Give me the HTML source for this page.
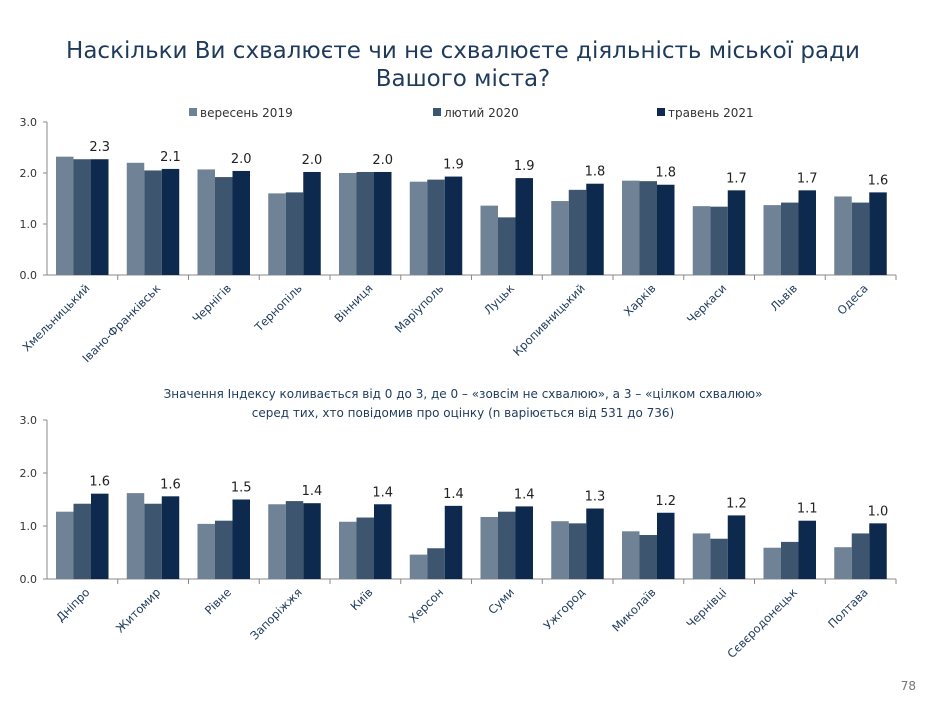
<!DOCTYPE html>
<html><head><meta charset="utf-8">
<style>
body{margin:0;background:#fff;width:926px;height:699px;overflow:hidden;font-family:"Liberation Sans","DejaVu Sans",sans-serif;}
svg text{font-family:"DejaVu Sans","Liberation Sans",sans-serif;}
</style></head><body>
<svg id="chart" width="926" height="699">
<text x="463" y="58" text-anchor="middle" font-size="23" fill="#1f3b5c">Наскільки Ви схвалюєте чи не схвалюєте діяльність міської ради</text>
<text x="463" y="86" text-anchor="middle" font-size="23" fill="#1f3b5c">Вашого міста?</text>
<g>
<rect x="189" y="108" width="8" height="8" fill="#6f8296"/>
<text x="200" y="117" font-size="12" fill="#333">вересень 2019</text>
<rect x="433" y="108" width="8" height="8" fill="#3e5570"/>
<text x="444" y="117" font-size="12" fill="#333">лютий 2020</text>
<rect x="657" y="108" width="8" height="8" fill="#0d2a4e"/>
<text x="668" y="117" font-size="12" fill="#333">травень 2021</text>
</g>
<text x="463" y="398" text-anchor="middle" font-size="12" fill="#1f3b5c">Значення Індексу коливається від 0 до 3, де 0 – «зовсім не схвалюю», а 3 – «цілком схвалюю»</text>
<text x="463" y="417" text-anchor="middle" font-size="12" fill="#1f3b5c">серед тих, хто повідомив про оцінку (n варіюється від 531 до 736)</text>
<text x="916" y="690" text-anchor="end" font-size="12" fill="#777">78</text>
</svg>
<script>
const topCats=["Хмельницький","Івано-Франківськ","Чернігів","Тернопіль","Вінниця","Маріуполь","Луцьк","Кропивницький","Харків","Черкаси","Львів","Одеса"];
const top2019=[2.32,2.2,2.07,1.6,2.0,1.83,1.36,1.45,1.85,1.35,1.37,1.54];
const top2020=[2.27,2.05,1.92,1.62,2.02,1.87,1.13,1.67,1.84,1.34,1.42,1.42];
const top2021=[2.27,2.08,2.04,2.02,2.02,1.93,1.9,1.79,1.77,1.66,1.66,1.62];
const topLabels=["2.3","2.1","2.0","2.0","2.0","1.9","1.9","1.8","1.8","1.7","1.7","1.6"];
const botCats=["Дніпро","Житомир","Рівне","Запоріжжя","Київ","Херсон","Суми","Ужгород","Миколаїв","Чернівці","Сєвєродонецьк","Полтава"];
const bot2019=[1.27,1.62,1.04,1.41,1.08,0.46,1.17,1.09,0.9,0.86,0.59,0.6];
const bot2020=[1.42,1.42,1.1,1.47,1.16,0.58,1.27,1.05,0.83,0.76,0.7,0.86];
const bot2021=[1.61,1.56,1.5,1.43,1.41,1.38,1.37,1.33,1.25,1.2,1.1,1.05];
const botLabels=["1.6","1.6","1.5","1.4","1.4","1.4","1.4","1.3","1.2","1.2","1.1","1.0"];
const yTicks=["0.0","1.0","2.0","3.0"];
const yTickVals=[0,1,2,3];
const NS="http://www.w3.org/2000/svg";
const svg=document.getElementById("chart");
const colors=["#6f8296","#3e5570","#0d2a4e"];
function mk(tag,attrs){const e=document.createElementNS(NS,tag);for(const k in attrs)e.setAttribute(k,attrs[k]);return e;}
function drawPanel(pfx,cats,series,labels,y0,y3){
  const x0=47,x1=896,gw=(x1-x0)/cats.length;
  const ys=v=>y0-(y0-y3)*v/3;
  const g=mk("g",{});
  
  
  svg.appendChild(g);
  const ax=mk("line",{x1:x0,y1:y3,x2:x0,y2:y0,stroke:"#888","stroke-width":1});
  
  
  g.appendChild(ax);
  const bx=mk("line",{x1:x0,y1:y0,x2:x1,y2:y0,stroke:"#888","stroke-width":1});
  
  
  g.appendChild(bx);
  yTickVals.forEach((v,i)=>{
    const t=mk("text",{x:x0-10,y:ys(v)+4,"text-anchor":"end","font-size":11,fill:"#333"});
    t.textContent=yTicks[i];
    
    
    g.appendChild(t);
    const tk=mk("line",{x1:x0-4,y1:ys(v),x2:x0,y2:ys(v),stroke:"#888"});
    
    
    g.appendChild(tk);
  });
  cats.forEach((c,i)=>{
    const gx=x0+i*gw;
    const tk=mk("line",{x1:gx+gw,y1:y0,x2:gx+gw,y2:y0+5,stroke:"#888"});
    
    
    g.appendChild(tk);
    const bw=17.5,start=gx+9;
    series.forEach((s,j)=>{
      const r=mk("rect",{x:start+j*bw,y:ys(s[i]),width:bw,height:y0-ys(s[i]),fill:colors[j]});
      
      
      g.appendChild(r);
    });
    const last=series[2][i];
    const lt=mk("text",{x:start+2.5*bw,y:ys(last)-8,"text-anchor":"middle","font-size":13,fill:"#222"});
    lt.textContent=labels[i];
    
    
    g.appendChild(lt);
    const cx=gx+gw/2+8,cy=y0+14;
    const ct=mk("text",{x:cx,y:cy,"text-anchor":"end","font-size":11.5,fill:"#1f3b5c",transform:"rotate(-45 "+cx+" "+cy+")"});
    ct.textContent=c;
    
    
    g.appendChild(ct);
  });
}
drawPanel("top",topCats,[top2019,top2020,top2021],topLabels,275,122);
drawPanel("bottom",botCats,[bot2019,bot2020,bot2021],botLabels,579,420);
</script>
</body></html>
